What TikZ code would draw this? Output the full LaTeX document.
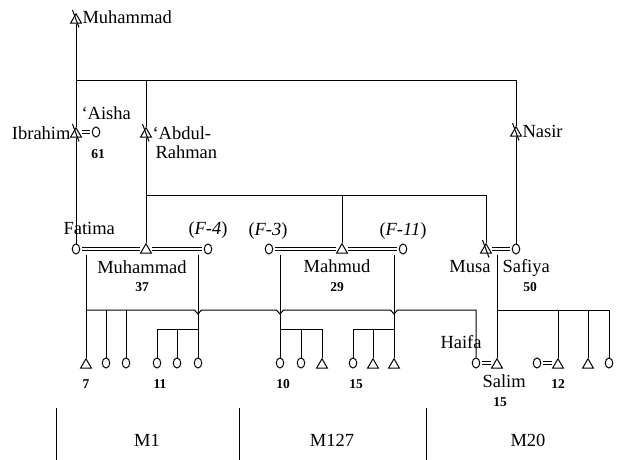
\documentclass[tikz,border=0pt]{standalone}
\usepackage{fontspec}
\setmainfont{Liberation Serif}
\usepackage{tikz}
\usetikzlibrary{shapes.geometric}
\newcommand\namefont{\fontsize{18.5}{20}\selectfont}
\newcommand\numfont{\fontsize{13.5}{15}\selectfont\bfseries}
\tikzset{
    male/.style={draw, fill=white, regular polygon, regular polygon sides=3,
                 minimum size=12.5pt, inner sep=0pt},
    female/.style={draw, fill=white, ellipse, minimum width=7.5pt,
                   minimum height=10pt, inner sep=0pt},
    dead/.style={append after command={
                 ([shift={(-3.5pt,10pt)}]\tikzlastnode.center) edge
                 ([shift={(3pt,-7.5pt)}]\tikzlastnode.center)}},
    wed/.style={double, double distance=2pt, line width=0.65pt,
                shorten <=2pt, shorten >=2pt},
    person/.style={inner sep=0pt, anchor=base west, font=\namefont},
    agetxt/.style={inner sep=0pt, anchor=base, font=\numfont},
}

\begin{document}
\begin{tikzpicture}[x=1pt, y=-1pt, line width=1pt]
    \useasboundingbox (0,0) rectangle (624,460);

    \node[male, dead] (gm) at (76,20) {};
    \node[person] (gmname) at (82,24) {Muhammad};

    \node[male, dead] (ibr) at (76,134) {};
    \node[person, anchor=base east] (ibrname) at (71,139) {Ibrahim};
    \node[female] (ais) at (96,132) {};
    \node[person] (aisname) at (81,119) {‘Aisha};
    \node[agetxt] (aisage) at (98,158) {61};
    \node[male, dead] (abd) at (146,134) {};
    \node[person] (abdname) at (152,139) {‘Abdul-};
    \node[person] (abdname2) at (155,158) {Rahman};
    \node[male, dead] (nas) at (516,133) {};
    \node[person] (nasname) at (522,137) {Nasir};

    \node[female] (fat) at (76,249) {};
    \node[person] (fatname) at (63,234) {Fatima};
    \node[male] (muh) at (146,250) {};
    \node[person, anchor=base] (muhname) at (142,273) {Muhammad};
    \node[agetxt] (muhage) at (142,291) {37};
    \node[female] (f4) at (208,249) {};
    \node[person] (f4name) at (188,234) {(\textit{F-4})};

    \node[female] (f3) at (269,249) {};
    \node[person] (f3name) at (248,235) {(\textit{F-3})};
    \node[male] (mah) at (342,250) {};
    \node[person, anchor=base] (mahname) at (337,272) {Mahmud};
    \node[agetxt] (mahage) at (337,291) {29};
    \node[female] (f11) at (403,249) {};
    \node[person] (f11name) at (379,235) {(\textit{F-11})};

    \node[male, dead] (mus) at (486,250) {};
    \node[person, anchor=base east] (musname) at (491,272) {Musa};
    \node[female] (saf) at (516,249) {};
    \node[person] (safname) at (502,272) {Safiya};
    \node[agetxt] (safage) at (530,291) {50};

    \node[male] (k1) at (86,365) {};
    \node[female] (k2) at (106,363) {};
    \node[female] (k3) at (126,363) {};
    \node[female] (k4) at (157,363) {};
    \node[female] (k5) at (177,363) {};
    \node[female] (k6) at (198,363) {};
    \node[female] (k7) at (280,363) {};
    \node[female] (k8) at (301,363) {};
    \node[male] (k9) at (322,365) {};
    \node[female] (k10) at (353,363) {};
    \node[male] (k11) at (373,365) {};
    \node[male] (k12) at (394,365) {};
    \node[female] (hai) at (476,363) {};
    \node[person] (hainame) at (440,348) {Haifa};
    \node[male] (sal) at (497,365) {};
    \node[person] (salname) at (482,387) {Salim};
    \node[agetxt] (salage) at (500,406) {15};
    \node[female] (swife) at (537,363) {};
    \node[male] (k13) at (558,365) {};
    \node[male] (k14) at (588,365) {};
    \node[female] (k15) at (609,363) {};

    \node[agetxt] (n7) at (86,388) {7};
    \node[agetxt] (n11) at (160,388) {11};
    \node[agetxt] (n10) at (283,388) {10};
    \node[agetxt] (n15) at (356,388) {15};
    \node[agetxt] (n12) at (558,388) {12};

    \coordinate (sib1) at (76,81);
    \coordinate (sib2) at (146,195);
    \coordinate (fmd) at (86,255);
    \coordinate (fmb) at (86,310);
    \coordinate (f4d) at (198,255);
    \coordinate (f3d) at (280,255);
    \coordinate (f11d) at (394,255);
    \coordinate (msd) at (497,255);

    \draw (gm.south) -- (ibr.north);
    \draw (ibr.south) -- (fat.north);
    \draw (sib1) -| (nas.north);
    \draw (sib1 -| abd) -- (abd.north);
    \draw (abd.south) -- (muh.north);
    \draw (nas.south) -- (saf.north);
    \draw (sib2) -| (mus.north);
    \draw (sib2 -| mah) -- (mah.north);

    \draw[wed] (ais.west -| ibr.east) -- (ais.west);
    \draw[wed] (fat.east) -- (fat.east -| muh.west);
    \draw[wed] (f4.west -| muh.east) -- (f4.west);
    \draw[wed] (f3.east) -- (f3.east -| mah.west);
    \draw[wed] (f11.west -| mah.east) -- (f11.west);
    \draw[wed] (saf.west -| mus.east) -- (saf.west);
    \draw[wed] (hai.east) -- (hai.east -| sal.west);
    \draw[wed] (swife.east) -- (swife.east -| k13.west);

    \draw (fmd) -- (k1.north);
    \draw (fmb) foreach \d in {f4d,f3d,f11d} {
        -- ([xshift=-3.5pt]\d |- fmb) -- ++(3.5,4) -- ++(3.5,-4)} -| (hai.north);
    \draw (k2.north) -- (k2 |- fmb);
    \draw (k3.north) -- (k3 |- fmb);

    \draw (f4d) -- (k6.north);
    \draw (k4.north) |- (k6 |- 0,329);
    \draw (k5.north) -- (k5 |- 0,329);
    \draw (f3d) -- (k7.north);
    \draw (k9.north) |- (k7 |- 0,329);
    \draw (k8.north) -- (k8 |- 0,329);
    \draw (f11d) -- (k12.north);
    \draw (k10.north) |- (k12 |- 0,329);
    \draw (k11.north) -- (k11 |- 0,329);

    \draw (msd) -- (sal.north);
    \draw (sal |- fmb) -| (k15.north);
    \draw (k13.north) -- (k13 |- fmb);
    \draw (k14.north) -- (k14 |- fmb);

    \foreach \x in {56,239,426}
        \draw (\x,408) -- (\x,460);
    \node[person, anchor=base] (m1) at (147,446) {M1};
    \node[person, anchor=base] (m127) at (332,446) {M127};
    \node[person, anchor=base] (m20) at (528,446) {M20};
\end{tikzpicture}
\end{document}
